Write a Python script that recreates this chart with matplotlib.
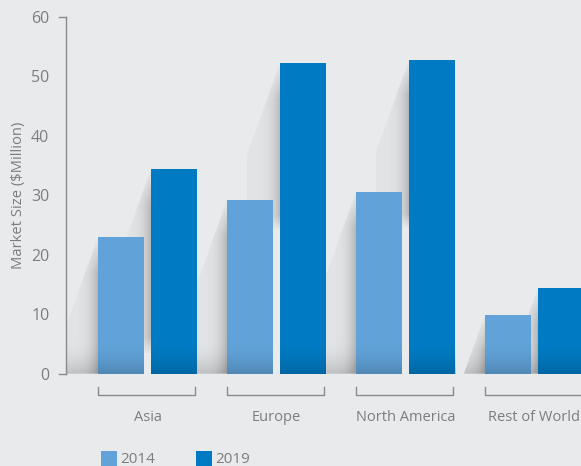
import numpy as np
import matplotlib
matplotlib.use("Agg")
import matplotlib.pyplot as plt
from matplotlib.patches import Polygon, Rectangle

regions = ["Asia", "Europe", "North America", "Rest of World"]
years = ["2014", "2019"]
size_2014 = [23.0, 29.2, 30.6, 9.9]
size_2019 = [34.4, 52.3, 52.8, 14.4]

bg = "#e9eaec"
c14 = "#61a3d9"
c19 = "#007bc3"
grey = "#7d7d7d"

plt.rcParams['font.family'] = ['Open Sans', 'DejaVu Sans']

fig = plt.figure(figsize=(5.81, 4.66), dpi=100, facecolor=bg)
ax = fig.add_axes([66/581, (466-373.7)/466, (581-66)/581, 356.7/466])
ax.set_facecolor(bg)

x = np.arange(len(regions))
w = 46/129
off = 26.5/129
sw = 33/129          # shadow width (data x)
sdh = 92/5.945       # height of the slanted part (data y)


def shadow(x0, h, bottom):
    # slanted shadow cast to the left of a bar, darkest next to it
    if h - sdh > bottom:
        pts = [(x0, h), (x0 - sw, h - sdh), (x0 - sw, bottom), (x0, bottom)]
    else:
        pts = [(x0, h), (x0 - sw*(h - bottom)/sdh, bottom), (x0, bottom)]
    n = 120
    u = np.linspace(0, 1, n)[None, :]          # 0 far left -> 1 at bar
    yy = np.linspace(h, bottom, n)[:, None]     # top -> bottom rows
    top_fade = np.clip((h - yy)/6.0, 0, 1)
    floor = np.clip(1 - yy/6.0, 0, 1)**2
    low_fade = np.clip((yy - bottom)/2.5, 0, 1) if bottom > 0 else 1.0
    alpha = (0.04 + 0.30*u**4)*top_fade*low_fade + 0.22*floor
    img = np.zeros((n, n, 4))
    img[..., :3] = 0.3
    img[..., 3] = np.clip(alpha, 0, 0.5)
    im = ax.imshow(img, extent=(x0 - sw, x0, bottom, h), origin="upper",
                   aspect="auto", zorder=1, interpolation="bilinear")
    poly = Polygon(pts, closed=True, transform=ax.transData,
                   facecolor="none", edgecolor="none")
    ax.add_patch(poly)
    im.set_clip_path(poly)


def floor_dark(x0, h):
    # bars get a little darker close to the floor
    top = min(h, 6)
    n = 60
    t = np.linspace(0, 1, n)[:, None]
    img = np.zeros((n, 2, 4))
    img[..., 3] = 0.17*t**2
    ax.imshow(img, extent=(x0, x0 + w, 0, top), origin="upper",
              aspect="auto", zorder=3, interpolation="bilinear")


for xi, a, b in zip(x, size_2014, size_2019):
    shadow(xi - off - w/2, a, 0)
    shadow(xi + off - w/2, b, 0.46*b if b > 40 else 3.5 if b > 25 else 0)

ax.bar(x - off, size_2014, w, color=c14, zorder=2)
ax.bar(x + off, size_2019, w, color=c19, zorder=2)

for xi, a, b in zip(x, size_2014, size_2019):
    floor_dark(xi - off - w/2, a)
    floor_dark(xi + off - w/2, b)

x_left = (66-147.5)/129
ax.set_xlim(x_left, (581-147.5)/129)
ax.set_ylim(0, 60)
ax.set_yticks(range(0, 61, 10))
ax.tick_params(axis="y", length=0, pad=12, labelsize=11.5, labelcolor=grey)
ax.set_xticks([])
for s in ["top", "right", "bottom"]:
    ax.spines[s].set_visible(False)
ax.spines["left"].set_color("#8a8a8a")
ax.spines["left"].set_linewidth(1.0)
for yv in [0, 60]:
    ax.plot([x_left - 7/129, x_left], [yv, yv],
            color="#8a8a8a", lw=1.0, clip_on=False, zorder=5)

ax.set_ylabel("Market Size ($Million)", fontsize=10.6, color=grey, labelpad=4)

# category brackets and labels
for xi, name in zip(x, regions):
    l, r = xi - 0.383, xi + 0.37
    ax.plot([l, l, r, r], [-2.3, -3.6, -3.6, -2.3], color="#8a8a8a",
            lw=1.0, clip_on=False)
    ax.text(xi, -7.4, name, ha="center", va="center", fontsize=10.5,
            color=grey, clip_on=False)

# legend
for x0, col, lab in [(-0.360, c14, years[0]), (0.376, c19, years[1])]:
    ax.add_patch(Rectangle((x0, -15.6), 0.125, 2.6, facecolor=col,
                           edgecolor="none", clip_on=False))
    ax.text(x0 + 0.148, -14.35, lab, ha="left", va="center", fontsize=11,
            color=grey, clip_on=False)

fig.savefig("out.png", dpi=100, facecolor=bg)
